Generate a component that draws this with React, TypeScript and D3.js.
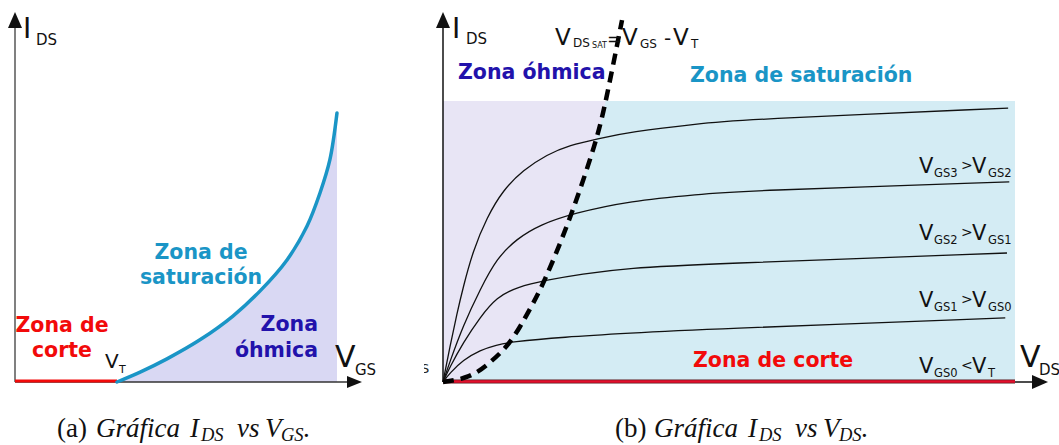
import React from "react";
import * as d3 from "d3";

// ---------- Left panel: I_DS vs V_GS ----------
const VT = 3.0;
const leftVgs = [3.0, 3.68, 4.47, 5.44, 6.41, 7.21, 8.0, 8.59, 8.97, 9.26, 9.47];
const leftIds = [0, 0.29, 0.68, 1.24, 1.94, 2.68, 3.59, 4.59, 5.56, 6.53, 7.91];

// ---------- Right panel: I_DS vs V_DS ----------
const vdsGS3 = [0, 0.12, 0.245, 0.35, 0.52, 0.77, 1.05, 1.4, 1.82, 2.22, 2.69, 3.27, 4.49, 5.19, 9.88];
const idsGS3 = [0, 1.25, 2.45, 3.35, 4.65, 5.87, 6.83, 7.54, 8.1, 8.43, 8.65, 8.9, 9.2, 9.33, 9.75];

const vdsGS2 = [0, 0.12, 0.35, 0.65, 0.94, 1.29, 1.7, 2.27, 3.27, 4.49, 5.19, 9.9];
const idsGS2 = [0, 0.72, 2.0, 3.3, 4.4, 5.1, 5.6, 6.0, 6.45, 6.68, 6.8, 7.12];

const vdsGS1 = [0, 0.12, 0.35, 0.65, 0.94, 1.29, 1.82, 2.4, 3.27, 4.49, 9.86];
const idsGS1 = [0, 0.53, 1.39, 2.31, 3.02, 3.38, 3.63, 3.84, 4.06, 4.19, 4.59];

const vdsGS0 = [0, 0.12, 0.35, 0.65, 0.94, 1.17, 2.1, 3.27, 4.49, 9.83];
const idsGS0 = [0, 0.32, 0.78, 1.14, 1.32, 1.42, 1.6, 1.74, 1.87, 2.28];

const satVds = [0, 0.47, 0.82, 1.12, 1.35, 1.52, 1.75, 2.22, 2.69, 2.85, 3.13];
const satIds = [0, 0.14, 0.68, 1.25, 1.96, 2.6, 3.45, 5.77, 8.61, 10, 12.88];

const curveLabels = [
  { a: "GS3", op: ">", b: "GS2", base: 173 },
  { a: "GS2", op: ">", b: "GS1", base: 240 },
  { a: "GS1", op: ">", b: "GS0", base: 307 },
  { a: "GS0", op: "<", b: "T", base: 373 },
];

const SANS = "DejaVu Sans";
const SERIF = "Liberation Serif";
const RED = "#f20a0a";
const TEAL = "#1a95c6";
const INDIGO = "#2212ab";

function zip(xs: number[], ys: number[]): [number, number][] {
  return xs.map((x, i) => [x, ys[i]] as [number, number]);
}

function Caption({ x, label, sub }: { x: number; label: string; sub: string }) {
  return (
    <text fontFamily={SERIF} fill="#111" fontSize={27} y={437}>
      <tspan x={x}>{label}</tspan>
      <tspan x={x + 39} fontStyle="italic">Gráfica</tspan>
      <tspan x={x + 133} fontStyle="italic">I</tspan>
      <tspan x={x + 144} dy={4} fontStyle="italic" fontSize={18.5}>DS</tspan>
      <tspan x={x + 180} dy={-4} fontStyle="italic">vs</tspan>
      <tspan x={x + 208} fontStyle="italic">V</tspan>
      <tspan x={x + 224} dy={4} fontStyle="italic" fontSize={18.5}>{sub}</tspan>
      <tspan x={x + 246} dy={-4}>.</tspan>
    </text>
  );
}

export default function App() {
  // scales
  const xL = d3.scaleLinear().domain([0, 10]).range([15, 355]);
  const yL = d3.scaleLinear().domain([0, 10]).range([382, 42]);
  const xR = d3.scaleLinear().domain([0, 10]).range([443, 1015]);
  const yR = d3.scaleLinear().domain([0, 10]).range([382, 101]);

  const leftPts = zip(leftVgs, leftIds);
  const leftLine = d3
    .line<[number, number]>()
    .x((d) => xL(d[0]))
    .y((d) => yL(d[1]))
    .curve(d3.curveCatmullRom.alpha(0.5));
  const leftArea = d3
    .area<[number, number]>()
    .x((d) => xL(d[0]))
    .y0(yL(0))
    .y1((d) => yL(d[1]))
    .curve(d3.curveCatmullRom.alpha(0.5));

  const rLine = d3
    .line<[number, number]>()
    .x((d) => xR(d[0]))
    .y((d) => yR(d[1]))
    .curve(d3.curveBasis);
  const satPts = zip(satVds, satIds);
  const satLine = d3
    .line<[number, number]>()
    .x((d) => xR(d[0]))
    .y((d) => yR(d[1]))
    .curve(d3.curveBasis);
  const satArea = d3
    .area<[number, number]>()
    .y((d) => yR(d[1]))
    .x0(xR(0))
    .x1((d) => xR(d[0]))
    .curve(d3.curveBasis);

  const curves = [
    zip(vdsGS3, idsGS3),
    zip(vdsGS2, idsGS2),
    zip(vdsGS1, idsGS1),
    zip(vdsGS0, idsGS0),
  ];

  const rx0 = xR(0),
    rx1 = xR(10),
    ry0 = yR(0),
    ry1 = yR(10);

  return (
    <svg
      width={1059}
      height={445}
      viewBox="0 0 1059 445"
      style={{ position: "absolute", left: 0, top: 0, background: "#fff" }}
    >
      <defs>
        <clipPath id="rectClip">
          <rect x={rx0} y={ry1} width={rx1 - rx0} height={ry0 - ry1} />
        </clipPath>
        <clipPath id="strayClip">
          <rect x={424} y={355} width={10} height={25} />
        </clipPath>
      </defs>

      {/* ================= LEFT PANEL ================= */}
      <path d={leftArea(leftPts) || ""} fill="#d9d8f3" />
      <line x1={xL(0)} y1={yL(0)} x2={xL(0)} y2={26} stroke="#808080" strokeWidth={2} />
      <path d={`M${xL(0)},12 L${xL(0) - 7},28 L${xL(0) + 7},28 Z`} fill="#111" />
      <line x1={xL(0)} y1={yL(0)} x2={350} y2={yL(0)} stroke="#333" strokeWidth={1.5} />
      <path d={`M362,${yL(0)} L347,${yL(0) - 6} L347,${yL(0) + 6} Z`} fill="#111" />
      <line x1={xL(0)} y1={yL(0) - 1} x2={xL(VT)} y2={yL(0) - 1} stroke={RED} strokeWidth={3} />
      <path d={leftLine(leftPts) || ""} fill="none" stroke={TEAL} strokeWidth={3.5} strokeLinecap="round" />

      <text fontFamily={SANS} fill="#111">
        <tspan x={23} y={38} fontSize={28}>I</tspan>
        <tspan x={36} y={45} fontSize={15}>DS</tspan>
      </text>
      <text fontFamily={SANS} fill="#111">
        <tspan x={335} y={367} fontSize={30}>V</tspan>
        <tspan x={355} y={375} fontSize={15}>GS</tspan>
      </text>
      <text fontFamily={SANS} fill="#111">
        <tspan x={105} y={368} fontSize={20}>V</tspan>
        <tspan x={119} y={373} fontSize={11}>T</tspan>
      </text>
      <text fontFamily={SANS} fontWeight="bold" fontSize={20.5} fill={RED} textAnchor="middle">
        <tspan x={62} y={332}>Zona de</tspan>
        <tspan x={62} y={357}>corte</tspan>
      </text>
      <text fontFamily={SANS} fontWeight="bold" fontSize={20.5} fill={TEAL} textAnchor="middle">
        <tspan x={201} y={259}>Zona de</tspan>
        <tspan x={201} y={284}>saturación</tspan>
      </text>
      <text fontFamily={SANS} fontWeight="bold" fontSize={20.5} fill={INDIGO} textAnchor="end">
        <tspan x={318} y={331}>Zona</tspan>
        <tspan x={318} y={357}>óhmica</tspan>
      </text>

      {/* ================= RIGHT PANEL ================= */}
      <rect x={rx0} y={ry1} width={rx1 - rx0} height={ry0 - ry1} fill="#d4ecf4" />
      <g clipPath="url(#rectClip)">
        <path d={satArea(satPts) || ""} fill="#e8e5f5" />
      </g>

      {curves.map((c, i) => (
        <path key={i} d={rLine(c) || ""} fill="none" stroke="#111" strokeWidth={1.3} />
      ))}

      <line x1={rx0} y1={ry0 - 0.5} x2={rx1} y2={ry0 - 0.5} stroke="#5a1a1e" strokeWidth={4} />
      <line x1={rx0} y1={ry0 - 0.5} x2={rx1} y2={ry0 - 0.5} stroke="#e3102c" strokeWidth={2.4} />

      <line x1={rx0} y1={ry0} x2={rx0} y2={26} stroke="#111" strokeWidth={1.5} />
      <path d={`M${rx0},12 L${rx0 - 7},28 L${rx0 + 7},28 Z`} fill="#111" />
      <line x1={rx1} y1={ry0} x2={1036} y2={ry0} stroke="#111" strokeWidth={1.5} />
      <path d={`M1048,${ry0} L1032,${ry0 - 7} L1032,${ry0 + 7} Z`} fill="#111" />

      <path
        d={satLine(satPts) || ""}
        fill="none"
        stroke="#000"
        strokeWidth={4.5}
        strokeDasharray="11,7"
      />

      <text fontFamily={SANS} fill="#111">
        <tspan x={452} y={38} fontSize={28}>I</tspan>
        <tspan x={466} y={44} fontSize={15}>DS</tspan>
      </text>
      <text fontFamily={SANS} fill="#111">
        <tspan x={1020} y={367} fontSize={30}>V</tspan>
        <tspan x={1039} y={375} fontSize={15}>DS</tspan>
      </text>

      <text fontFamily={SANS} fill="#111">
        <tspan x={555} y={45} fontSize={23}>V</tspan>
        <tspan x={573} y={47} fontSize={12}>DS</tspan>
        <tspan x={592} y={48} fontSize={8}>SAT</tspan>
        <tspan x={607} y={45} fontSize={18}>=</tspan>
        <tspan x={622} y={45} fontSize={23}>V</tspan>
        <tspan x={640} y={48} fontSize={12}>GS</tspan>
        <tspan x={664} y={45} fontSize={20}>-</tspan>
        <tspan x={673} y={45} fontSize={23}>V</tspan>
        <tspan x={691} y={48} fontSize={12}>T</tspan>
      </text>

      <text fontFamily={SANS} fontWeight="bold" fontSize={20.5} fill={INDIGO} x={458} y={79}>
        Zona óhmica
      </text>
      <text fontFamily={SANS} fontWeight="bold" fontSize={20.5} fill={TEAL} x={690} y={82}>
        Zona de saturación
      </text>
      <text fontFamily={SANS} fontWeight="bold" fontSize={20.5} fill={RED} x={693} y={367}>
        Zona de corte
      </text>

      {curveLabels.map((l, i) => (
        <text key={i} fontFamily={SANS} fill="#111">
          <tspan x={919} y={l.base} fontSize={21}>V</tspan>
          <tspan x={934} y={l.base + 4} fontSize={11.5}>{l.a}</tspan>
          <tspan x={961} y={l.base - 3} fontSize={14}>{l.op}</tspan>
          <tspan x={972} y={l.base} fontSize={21}>V</tspan>
          <tspan x={988} y={l.base + 4} fontSize={11.5}>{l.b}</tspan>
        </text>
      ))}

      <g clipPath="url(#strayClip)">
        <text fontFamily={SANS} fontSize={13} fill="#222" x={421} y={373}>
          S
        </text>
      </g>

      <Caption x={57} label="(a)" sub="GS" />
      <Caption x={615} label="(b)" sub="DS" />
    </svg>
  );
}
